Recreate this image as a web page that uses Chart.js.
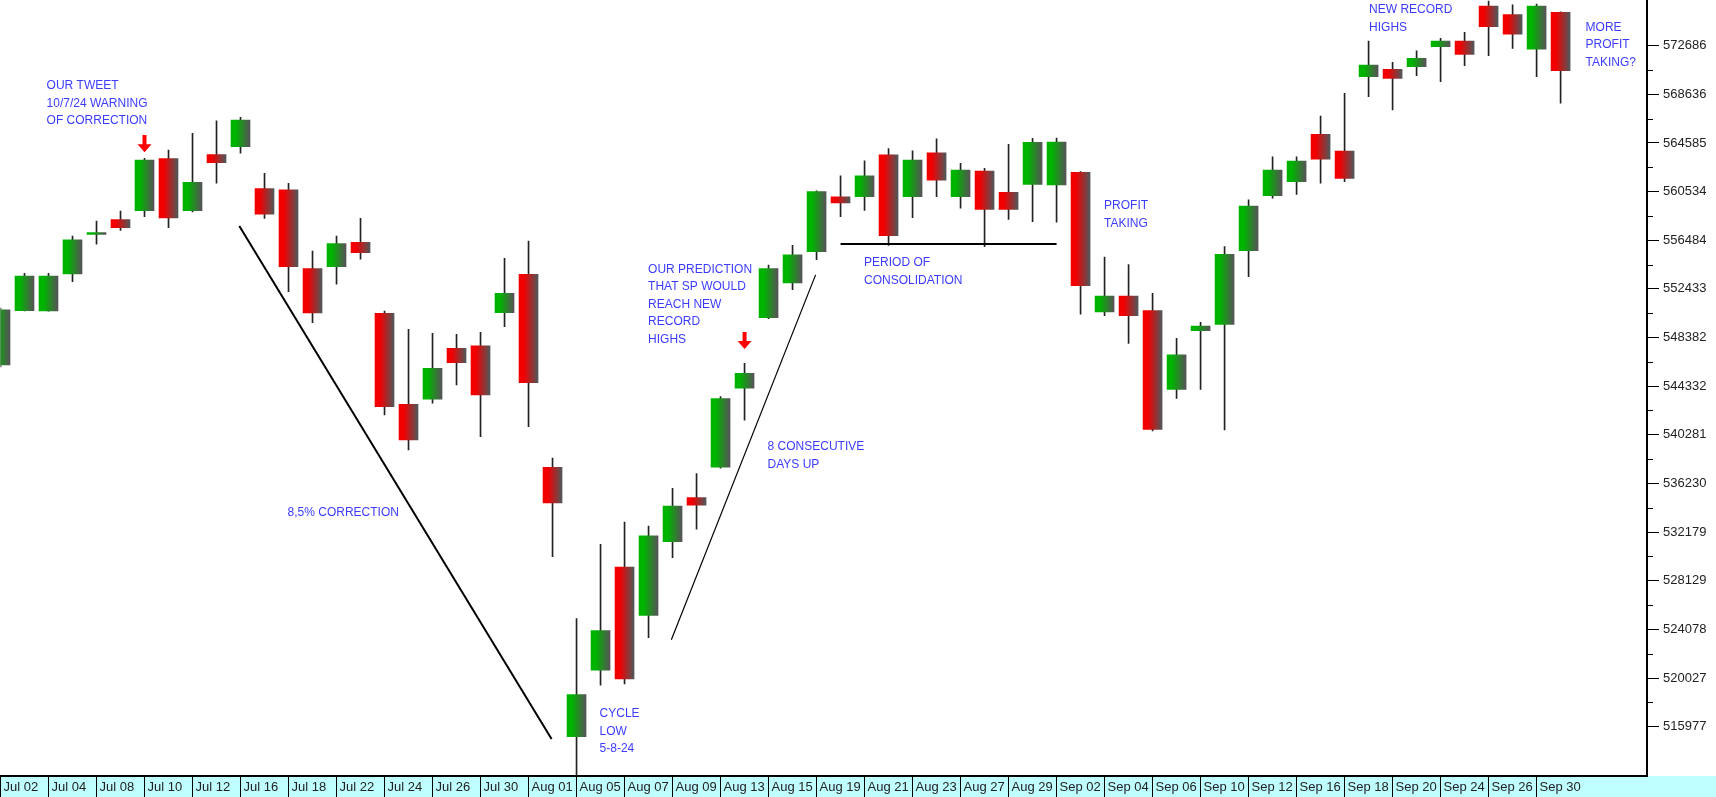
<!DOCTYPE html>
<html>
<head>
<meta charset="utf-8">
<script src="https://cdn.jsdelivr.net/npm/chart.js@4/dist/chart.umd.min.js"></script>
<style>
  html, body { margin: 0; padding: 0; background: #fff; }
  #wrap { width: 1716px; height: 797px; }
</style>
</head>
<body>
<div id="wrap"><canvas id="chart"></canvas></div>
<script>
// daily candles, Jul 02 - Oct 01
const dates = [
  'Jul 02', 'Jul 03', 'Jul 04', 'Jul 05', 'Jul 08', 'Jul 09', 'Jul 10', 'Jul 11', 'Jul 12',
  'Jul 15', 'Jul 16', 'Jul 17', 'Jul 18', 'Jul 19', 'Jul 22', 'Jul 23', 'Jul 24', 'Jul 25',
  'Jul 26', 'Jul 29', 'Jul 30', 'Jul 31', 'Aug 01', 'Aug 02', 'Aug 05', 'Aug 06', 'Aug 07',
  'Aug 08', 'Aug 09', 'Aug 12', 'Aug 13', 'Aug 14', 'Aug 15', 'Aug 16', 'Aug 19', 'Aug 20',
  'Aug 21', 'Aug 22', 'Aug 23', 'Aug 26', 'Aug 27', 'Aug 28', 'Aug 29', 'Aug 30', 'Sep 02',
  'Sep 03', 'Sep 04', 'Sep 05', 'Sep 06', 'Sep 09', 'Sep 10', 'Sep 11', 'Sep 12', 'Sep 13',
  'Sep 16', 'Sep 17', 'Sep 18', 'Sep 19', 'Sep 20', 'Sep 23', 'Sep 24', 'Sep 25', 'Sep 26',
  'Sep 27', 'Sep 30', 'Oct 01',
];

const opens = [
  546100, 550620, 550600, 553670, 556960, 558200, 558950, 563280, 558950, 563610, 564280,
  560780, 560690, 554130, 554280, 556310, 550400, 542820, 543250, 547490, 547690, 550450,
  553650, 537580, 515150, 520690, 529270, 525240, 531380, 535060, 537580, 544170, 550030,
  552930, 555530, 560090, 560120, 563590, 560120, 563770, 560110, 562250, 560480, 561140,
  561100, 562140, 550510, 551840, 550620, 544070, 548950, 549480, 555610, 560190, 561360,
  565310, 563920, 570100, 570720, 570940, 572600, 573080, 575990, 575270, 572390, 575470,
];
const highs = [
  550840, 553730, 553730, 556840, 558090, 558920, 563310, 564000, 565390, 566420, 566720,
  562060, 561230, 555590, 556840, 558310, 550590, 549070, 548740, 548640, 548820, 554980,
  556420, 538350, 524970, 531170, 533020, 532680, 535830, 537060, 543470, 546240, 554410,
  556060, 560600, 561840, 563100, 564120, 563940, 564920, 562890, 562480, 564480, 564970,
  565000, 562200, 555090, 554460, 552070, 548320, 549650, 555950, 559840, 563440, 563440,
  566830, 568720, 573080, 571300, 572250, 573300, 573800, 576410, 576080, 576160, 575500,
];
const lows = [
  545930, 550590, 550580, 553030, 556150, 557310, 558450, 557530, 558840, 561230, 563730,
  558310, 552200, 549620, 552820, 554900, 541930, 539020, 542910, 544430, 540120, 549280,
  540960, 530130, 511000, 519430, 519530, 523390, 530050, 532430, 537500, 541510, 549950,
  552370, 554860, 558440, 558960, 556060, 558370, 560120, 559150, 555950, 558210, 558030,
  558000, 550320, 550200, 547900, 540600, 543320, 544070, 540680, 553450, 559980, 560310,
  561230, 561360, 568440, 567330, 570190, 569690, 571020, 571850, 572470, 570100, 567890,
];
const closes = [
  550680, 553510, 553500, 556510, 556990, 557530, 563170, 558340, 561310, 562940, 566500,
  558650, 554280, 550430, 556210, 555440, 542620, 539850, 545820, 546290, 543600, 552070,
  544620, 534600, 518650, 523980, 519950, 531870, 534350, 534430, 543300, 545400, 554120,
  555280, 560540, 559590, 561840, 556860, 563170, 561490, 562330, 559060, 559060, 564640,
  564650, 552700, 551840, 550200, 540740, 546950, 549340, 555310, 559340, 562330, 563080,
  563230, 561640, 571080, 569970, 571640, 573080, 571970, 574270, 573640, 575990, 570600,
];

const xTickLabels = [
  'Jul 02', 'Jul 04', 'Jul 08', 'Jul 10', 'Jul 12', 'Jul 16', 'Jul 18', 'Jul 22', 'Jul 24',
  'Jul 26', 'Jul 30', 'Aug 01', 'Aug 05', 'Aug 07', 'Aug 09', 'Aug 13', 'Aug 15', 'Aug 19',
  'Aug 21', 'Aug 23', 'Aug 27', 'Aug 29', 'Sep 02', 'Sep 04', 'Sep 06', 'Sep 10', 'Sep 12',
  'Sep 16', 'Sep 18', 'Sep 20', 'Sep 24', 'Sep 26', 'Sep 30',
];
const yTicks = [
  515977, 520027, 524078, 528129, 532179, 536230, 540281, 544332,
  548382, 552433, 556484, 560534, 564585, 568636, 572686,
];

// notes drawn on top, in data units (x = day index, y = price)
const notes = [
  { x: 1.92, y: 569330, lines: ['OUR TWEET', '10/7/24 WARNING', 'OF CORRECTION'] },
  { x: 11.96, y: 533770, lines: ['8,5% CORRECTION'] },
  { x: 24.96, y: 517030, lines: ['CYCLE', 'LOW', '5-8-24'] },
  { x: 31.96, y: 539270, lines: ['8 CONSECUTIVE', 'DAYS UP'] },
  { x: 26.98, y: 554070, lines: ['OUR PREDICTION', 'THAT SP WOULD', 'REACH NEW', 'RECORD', 'HIGHS'] },
  { x: 35.98, y: 554590, lines: ['PERIOD OF', 'CONSOLIDATION'] },
  { x: 45.98, y: 559340, lines: ['PROFIT', 'TAKING'] },
  { x: 57.02, y: 575660, lines: ['NEW RECORD', 'HIGHS'] },
  { x: 66.04, y: 574220, lines: ['MORE', 'PROFIT', 'TAKING?'] },
];
const trendLines = [
  { x1: 9.95, y1: 557670, x2: 22.96, y2: 514950, w: 2 },
  { x1: 27.95, y1: 523210, x2: 33.96, y2: 553600, w: 1.2 },
  { x1: 35, y1: 556170, x2: 44, y2: 556170, w: 2.2 },
];
const arrows = [
  { x: 6, top: 565250, tip: 563810 },
  { x: 31, top: 548840, tip: 547430 },
];

const axisFont = { family: '"Liberation Sans", Arial, sans-serif', size: 13 };

const bodyColor = (ctx) => {
  const i = ctx.dataIndex;
  const up = closes[i] >= opens[i];
  const base = up ? '#00b300' : '#f20000';
  const chart = ctx.chart;
  if (!chart.chartArea || !chart.scales.x) return base;
  const px = chart.scales.x.getPixelForValue(i);
  const g = chart.ctx.createLinearGradient(px - 9, 0, px + 9, 0);
  g.addColorStop(0, base);
  g.addColorStop(0.25, base);
  g.addColorStop(1, '#555555');
  return g;
};

const extras = {
  id: 'extras',
  beforeDraw(chart) {
    const { ctx, chartArea, width, height } = chart;
    ctx.save();
    ctx.fillStyle = '#c0ffff';
    ctx.fillRect(0, chartArea.bottom, width, height - chartArea.bottom);
    ctx.restore();
  },
  afterDraw(chart) {
    const { ctx, chartArea } = chart;
    const xs = chart.scales.x;
    const ys = chart.scales.y;
    ctx.save();

    // half-step ticks on the price axis
    ctx.strokeStyle = '#000';
    ctx.lineWidth = 1;
    for (let k = 0; k < yTicks.length - 1; k++) {
      const py = Math.round(ys.getPixelForValue((yTicks[k] + yTicks[k + 1]) / 2)) + 0.5;
      ctx.beginPath();
      ctx.moveTo(chartArea.right, py);
      ctx.lineTo(chartArea.right + 6, py);
      ctx.stroke();
    }

    ctx.beginPath();
    ctx.rect(chartArea.left, chartArea.top, chartArea.right - chartArea.left, chartArea.bottom - chartArea.top);
    ctx.clip();

    trendLines.forEach((l) => {
      ctx.strokeStyle = '#000';
      ctx.lineWidth = l.w;
      ctx.beginPath();
      ctx.moveTo(xs.getPixelForValue(l.x1), ys.getPixelForValue(l.y1));
      ctx.lineTo(xs.getPixelForValue(l.x2), ys.getPixelForValue(l.y2));
      ctx.stroke();
    });

    ctx.fillStyle = '#ff0000';
    arrows.forEach((a) => {
      const px = xs.getPixelForValue(a.x);
      const top = ys.getPixelForValue(a.top);
      const tip = ys.getPixelForValue(a.tip);
      ctx.fillRect(px - 2, top, 4, tip - top - 7);
      ctx.beginPath();
      ctx.moveTo(px - 7, tip - 8);
      ctx.lineTo(px + 7, tip - 8);
      ctx.lineTo(px, tip);
      ctx.closePath();
      ctx.fill();
    });

    ctx.fillStyle = '#3c3cff';
    ctx.font = '12px "Liberation Sans", Arial, sans-serif';
    ctx.textBaseline = 'middle';
    ctx.textAlign = 'left';
    notes.forEach((n) => {
      const px = xs.getPixelForValue(n.x);
      const py = ys.getPixelForValue(n.y);
      n.lines.forEach((t, j) => ctx.fillText(t, px, py + j * 17.5));
    });
    ctx.restore();
  },
};

new Chart(document.getElementById('chart'), {
  type: 'bar',
  data: {
    datasets: [
      {
        label: 'Body',
        data: dates.map((d, i) => ({ x: i, y: [opens[i], closes[i]] })),
        backgroundColor: bodyColor,
        barThickness: 19,
        minBarLength: 2,
        grouped: false,
      },
      {
        label: 'Range',
        data: dates.map((d, i) => ({ x: i, y: [lows[i], highs[i]] })),
        backgroundColor: '#222222',
        barThickness: 1,
        grouped: false,
      },
    ],
  },
  options: {
    responsive: true,
    maintainAspectRatio: false,
    animation: false,
    events: [],
    layout: { padding: { left: 0.5, right: 0, top: 0, bottom: 0 } },
    plugins: { legend: { display: false }, tooltip: { enabled: false } },
    scales: {
      x: {
        type: 'linear',
        offset: false,
        min: 0,
        max: 68.6,
        afterBuildTicks: (s) => {
          s.ticks = dates
            .map((d, i) => ({ value: i }))
            .filter((t) => xTickLabels.includes(dates[t.value]));
        },
        afterFit: (s) => {
          s.height = 21;
          s.paddingLeft = 0;
          s.paddingRight = 0;
        },
        grid: { offset: false, drawOnChartArea: false, drawTicks: true, tickLength: 21, color: '#000', lineWidth: 1 },
        border: { display: true, color: '#000', width: 2 },
        ticks: {
          autoSkip: false,
          maxRotation: 0,
          align: 'start',
          labelOffset: 3,
          padding: -17,
          color: '#222',
          font: axisFont,
          callback: (v) => dates[v],
        },
      },
      y: {
        position: 'right',
        min: 511867,
        max: 576492,
        afterBuildTicks: (s) => { s.ticks = yTicks.map((v) => ({ value: v })); },
        afterFit: (s) => {
          s.width = 69;
          s.paddingTop = 0;
          s.paddingBottom = 0;
        },
        grid: { drawOnChartArea: false, drawTicks: true, tickLength: 12, color: '#000' },
        border: { display: true, color: '#000', width: 2 },
        ticks: { padding: 4, color: '#222', font: axisFont, callback: (v) => String(v) },
      },
    },
  },
  plugins: [extras],
});
</script>
</body>
</html>
